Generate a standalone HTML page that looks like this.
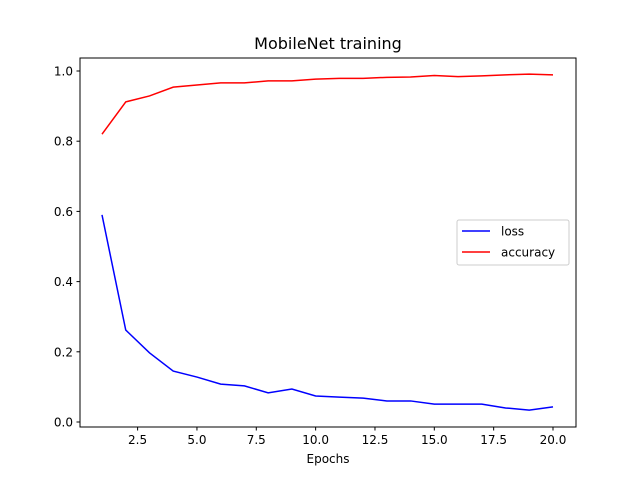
<!DOCTYPE html>
<html><head><meta charset="utf-8"><style>
body{margin:0;background:#fff}
svg text{font-family:"DejaVu Sans","Liberation Sans",sans-serif;fill:#000}
</style></head><body>
<svg id="chart" width="640" height="480" viewBox="0 0 640 480">
<rect width="640" height="480" fill="#fff"/>
<text x="328" y="49" font-size="16" text-anchor="middle">MobileNet training</text>
<g id="axes"></g>
<rect x="80" y="58" width="496" height="369" fill="none" stroke="#000" stroke-width="1"/>
<text x="328" y="463" font-size="12" text-anchor="middle">Epochs</text>
<g>
<rect x="457" y="220" width="112" height="45" rx="2" fill="#fff" stroke="#ccc"/>
<line x1="462" y1="231" x2="490" y2="231" stroke="blue" stroke-width="1.5"/>
<text x="501" y="235.5" font-size="12">loss</text>
<line x1="462" y1="252" x2="490" y2="252" stroke="red" stroke-width="1.5"/>
<text x="501" y="256.5" font-size="12">accuracy</text>
</g>
</svg>
<script>
const epochs=[1,2,3,4,5,6,7,8,9,10,11,12,13,14,15,16,17,18,19,20];
const loss=[0.590,0.262,0.197,0.145,0.128,0.108,0.103,0.083,0.094,0.074,0.071,0.068,0.060,0.060,0.051,0.051,0.051,0.040,0.034,0.043];
const accuracy=[0.820,0.912,0.929,0.954,0.960,0.966,0.966,0.972,0.972,0.977,0.979,0.979,0.982,0.983,0.987,0.984,0.986,0.989,0.991,0.989];
const xTicks=[2.5,5.0,7.5,10.0,12.5,15.0,17.5,20.0];
const yTicks=[0.0,0.2,0.4,0.6,0.8,1.0];
const NS="http://www.w3.org/2000/svg";
const xs=v=>102+(v-1)*(451/19);
const ys=v=>422-v*351;
const g=document.getElementById('axes');
function mk(t,a){const e=document.createElementNS(NS,t);for(const k in a)e.setAttribute(k,a[k]);g.appendChild(e);return e;}
xTicks.forEach(t=>{
 const l=mk('line',{x1:xs(t),x2:xs(t),y1:427,y2:430.5,stroke:'#000'});
 
 
 const tx=mk('text',{x:xs(t),y:444,'font-size':12,'text-anchor':'middle'});tx.textContent=t.toFixed(1);
 
 
});
yTicks.forEach(t=>{
 const l=mk('line',{x1:76.5,x2:80,y1:ys(t),y2:ys(t),stroke:'#000'});
 
 
 const tx=mk('text',{x:73,y:ys(t)+4.5,'font-size':12,'text-anchor':'end'});tx.textContent=t.toFixed(1);
 
 
});
const pl=mk('polyline',{points:epochs.map((e,i)=>xs(e)+','+ys(loss[i])).join(' '),fill:'none',stroke:'blue','stroke-width':1.5});


const pa=mk('polyline',{points:epochs.map((e,i)=>xs(e)+','+ys(accuracy[i])).join(' '),fill:'none',stroke:'red','stroke-width':1.5});


</script>
</body></html>
